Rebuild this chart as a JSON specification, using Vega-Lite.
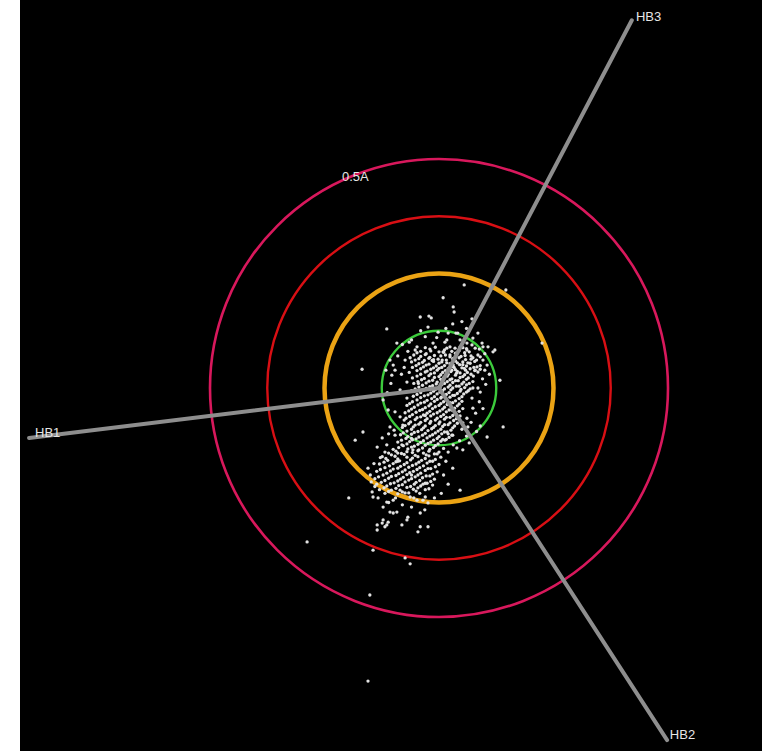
{
  "$schema": "https://vega.github.io/schema/vega-lite/v6.json",
  "width": 742,
  "height": 751,
  "autosize": {"type": "none"},
  "padding": {"left": 20, "top": 0, "right": 0, "bottom": 0},
  "background": "white",
  "config": {"view": {"fill": "black", "stroke": null}},
  "datasets": {
    "rings": [
      {"ring": "r1", "r": 0.125},
      {"ring": "r2", "r": 0.25},
      {"ring": "r3", "r": 0.375},
      {"ring": "r4", "r": 0.5}
    ],
    "phases": [
      {"phase": "HB1", "x0": 0, "y0": 0, "x1": -0.895, "y1": -0.109},
      {"phase": "HB2", "x0": 0, "y0": 0, "x1": 0.498, "y1": -0.769},
      {"phase": "HB3", "x0": 0, "y0": 0, "x1": 0.421, "y1": 0.803}
    ],
    "labels": [
      {"label": "HB1", "x": -0.882, "y": -0.107},
      {"label": "HB2", "x": 0.504, "y": -0.766},
      {"label": "HB3", "x": 0.430, "y": 0.801},
      {"label": "0.5A", "x": -0.212, "y": 0.452}
    ],
    "pts": [
      {"x":0.009,"y":0.197},{"x":0.031,"y":0.177},{"x":0.033,"y":0.166},{"x":-0.041,"y":0.155},{"x":-0.022,"y":0.157},{"x":-0.017,"y":0.153},{"x":-0.114,"y":0.129},{"x":-0.024,"y":0.133},{"x":-0.002,"y":0.122},{"x":-0.092,"y":0.098},{"x":-0.048,"y":0.090},{"x":-0.052,"y":0.083},{"x":-0.013,"y":0.098},{"x":0.017,"y":0.105},{"x":0.024,"y":0.090},{"x":0.037,"y":0.120},{"x":-0.074,"y":0.061},{"x":-0.063,"y":0.066},{"x":-0.100,"y":0.050},{"x":-0.107,"y":0.061},{"x":0.055,"y":0.225},{"x":0.146,"y":0.214},{"x":0.072,"y":0.151},{"x":0.085,"y":0.120},{"x":0.074,"y":0.109},{"x":0.094,"y":0.098},{"x":0.096,"y":0.090},{"x":0.107,"y":0.090},{"x":0.122,"y":0.083},{"x":0.118,"y":0.079},{"x":0.041,"y":0.120},{"x":0.020,"y":0.120},{"x":0.046,"y":0.105},{"x":0.061,"y":0.098},{"x":0.072,"y":0.094},{"x":0.079,"y":0.087},{"x":0.061,"y":0.083},{"x":0.046,"y":0.090},{"x":0.090,"y":0.068},{"x":0.096,"y":0.061},{"x":0.105,"y":0.050},{"x":0.074,"y":0.066},{"x":0.063,"y":0.055},{"x":0.083,"y":0.046},{"x":0.052,"y":0.057},{"x":0.013,"y":0.100},{"x":0.017,"y":0.087},{"x":0.009,"y":0.079},{"x":0.024,"y":0.072},{"x":0.007,"y":0.061},{"x":0.017,"y":0.055},{"x":0.031,"y":0.050},{"x":0.028,"y":0.039},{"x":-0.116,"y":0.039},{"x":-0.103,"y":0.028},{"x":-0.096,"y":0.039},{"x":-0.070,"y":0.013},{"x":-0.085,"y":-0.004},{"x":-0.122,"y":-0.026},{"x":-0.111,"y":-0.048},{"x":-0.096,"y":-0.052},{"x":-0.085,"y":-0.063},{"x":-0.107,"y":-0.085},{"x":-0.079,"y":-0.081},{"x":-0.096,"y":-0.103},{"x":-0.124,"y":-0.109},{"x":-0.135,"y":-0.129},{"x":-0.114,"y":-0.124},{"x":-0.081,"y":-0.124},{"x":-0.090,"y":-0.142},{"x":-0.057,"y":-0.135},{"x":0.079,"y":0.039},{"x":0.090,"y":0.041},{"x":0.100,"y":0.039},{"x":0.074,"y":0.000},{"x":0.085,"y":0.000},{"x":0.090,"y":-0.009},{"x":0.133,"y":0.017},{"x":0.072,"y":-0.022},{"x":0.074,"y":-0.044},{"x":0.061,"y":-0.066},{"x":0.052,"y":-0.076},{"x":0.063,"y":-0.085},{"x":0.090,"y":-0.083},{"x":0.140,"y":-0.085},{"x":0.105,"y":-0.107},{"x":0.028,"y":-0.103},{"x":0.013,"y":-0.114},{"x":0.031,"y":-0.124},{"x":0.039,"y":-0.131},{"x":0.052,"y":-0.135},{"x":-0.197,"y":-0.240},{"x":-0.146,"y":-0.227},{"x":-0.144,"y":-0.238},{"x":-0.133,"y":-0.240},{"x":-0.122,"y":-0.260},{"x":-0.114,"y":-0.249},{"x":-0.100,"y":-0.245},{"x":-0.107,"y":-0.271},{"x":-0.100,"y":-0.273},{"x":-0.092,"y":-0.271},{"x":-0.122,"y":-0.288},{"x":-0.111,"y":-0.293},{"x":-0.114,"y":-0.299},{"x":-0.118,"y":-0.303},{"x":-0.135,"y":-0.299},{"x":-0.124,"y":-0.295},{"x":-0.070,"y":-0.288},{"x":-0.081,"y":-0.299},{"x":-0.041,"y":-0.273},{"x":-0.031,"y":-0.266},{"x":-0.041,"y":-0.303},{"x":-0.024,"y":-0.303},{"x":-0.046,"y":-0.314},{"x":-0.135,"y":-0.310},{"x":-0.144,"y":-0.354},{"x":-0.074,"y":-0.371},{"x":-0.063,"y":-0.384},{"x":-0.068,"y":-0.282},{"x":-0.085,"y":-0.223},{"x":-0.074,"y":-0.229},{"x":-0.063,"y":-0.238},{"x":-0.048,"y":-0.245},{"x":-0.035,"y":-0.245},{"x":-0.024,"y":-0.251},{"x":-0.168,"y":0.041},{"x":-0.183,"y":-0.114},{"x":-0.166,"y":-0.096},{"x":-0.288,"y":-0.336},{"x":-0.151,"y":-0.452},{"x":-0.155,"y":-0.640},{"x":0.046,"y":-0.223},{"x":0.225,"y":0.098},
      {"x":-0.030,"y":0.088},{"x":-0.008,"y":0.089},{"x":0.035,"y":0.087},{"x":0.052,"y":0.088},
      {"x":-0.040,"y":0.080},{"x":-0.018,"y":0.081},{"x":0.000,"y":0.079},{"x":0.028,"y":0.080},{"x":0.044,"y":0.082},{"x":0.066,"y":0.079},
      {"x":-0.055,"y":0.072},{"x":-0.030,"y":0.073},{"x":-0.010,"y":0.071},{"x":0.014,"y":0.072},{"x":0.038,"y":0.074},{"x":0.057,"y":0.071},{"x":0.085,"y":0.072},
      {"x":-0.044,"y":0.064},{"x":-0.022,"y":0.065},{"x":-0.002,"y":0.063},{"x":0.030,"y":0.064},{"x":0.044,"y":0.066},{"x":0.070,"y":0.063},
      {"x":-0.060,"y":0.057},{"x":-0.036,"y":0.056},{"x":-0.012,"y":0.058},{"x":0.006,"y":0.057},{"x":0.040,"y":0.055},{"x":0.078,"y":0.058},
      {"x":-0.050,"y":0.049},{"x":-0.028,"y":0.050},{"x":-0.006,"y":0.048},{"x":0.012,"y":0.049},{"x":0.045,"y":0.051},{"x":0.060,"y":0.048},{"x":0.090,"y":0.049},
      {"x":-0.040,"y":0.042},{"x":-0.018,"y":0.041},{"x":0.000,"y":0.043},{"x":0.020,"y":0.042},{"x":0.036,"y":0.040},{"x":0.055,"y":0.043},{"x":0.068,"y":0.042},
      {"x":-0.065,"y":0.034},{"x":-0.030,"y":0.035},{"x":-0.010,"y":0.033},{"x":0.008,"y":0.034},{"x":0.026,"y":0.036},{"x":0.046,"y":0.033},{"x":0.062,"y":0.034},{"x":0.085,"y":0.035},
      {"x":-0.048,"y":0.026},{"x":-0.022,"y":0.027},{"x":0.000,"y":0.025},{"x":0.018,"y":0.026},{"x":0.036,"y":0.028},{"x":0.052,"y":0.025},{"x":0.075,"y":0.026},
      {"x":-0.038,"y":0.018},{"x":-0.014,"y":0.017},{"x":0.004,"y":0.019},{"x":0.024,"y":0.018},{"x":0.042,"y":0.016},{"x":0.060,"y":0.019},
      {"x":-0.055,"y":0.010},{"x":-0.028,"y":0.011},{"x":-0.006,"y":0.009},{"x":0.012,"y":0.010},{"x":0.030,"y":0.012},{"x":0.050,"y":0.009},{"x":0.066,"y":0.010},
      {"x":-0.044,"y":0.002},{"x":-0.020,"y":0.003},{"x":0.002,"y":0.001},{"x":0.020,"y":0.002},{"x":0.038,"y":0.004},{"x":0.056,"y":0.001},
      {"x":-0.060,"y":-0.006},{"x":-0.034,"y":-0.005},{"x":-0.012,"y":-0.007},{"x":0.008,"y":-0.006},{"x":0.026,"y":-0.004},{"x":0.046,"y":-0.007},{"x":0.064,"y":-0.006},
      {"x":-0.048,"y":-0.014},{"x":-0.024,"y":-0.015},{"x":-0.004,"y":-0.013},{"x":0.016,"y":-0.014},{"x":0.034,"y":-0.016},{"x":0.054,"y":-0.013},
      {"x":-0.070,"y":-0.022},{"x":-0.040,"y":-0.021},{"x":-0.016,"y":-0.023},{"x":0.004,"y":-0.022},{"x":0.024,"y":-0.020},{"x":0.044,"y":-0.023},
      {"x":-0.058,"y":-0.030},{"x":-0.032,"y":-0.031},{"x":-0.010,"y":-0.029},{"x":0.010,"y":-0.030},{"x":0.030,"y":-0.032},{"x":0.050,"y":-0.029},
      {"x":-0.070,"y":-0.038},{"x":-0.046,"y":-0.037},{"x":-0.022,"y":-0.039},{"x":0.000,"y":-0.038},{"x":0.018,"y":-0.036},{"x":0.040,"y":-0.039},
      {"x":-0.060,"y":-0.046},{"x":-0.036,"y":-0.047},{"x":-0.014,"y":-0.045},{"x":0.008,"y":-0.046},{"x":0.028,"y":-0.048},{"x":0.052,"y":-0.045},
      {"x":-0.074,"y":-0.054},{"x":-0.050,"y":-0.053},{"x":-0.026,"y":-0.055},{"x":-0.004,"y":-0.054},{"x":0.016,"y":-0.052},{"x":0.036,"y":-0.055},
      {"x":-0.064,"y":-0.062},{"x":-0.040,"y":-0.063},{"x":-0.018,"y":-0.061},{"x":0.004,"y":-0.062},{"x":0.024,"y":-0.064},{"x":0.046,"y":-0.061},
      {"x":-0.076,"y":-0.070},{"x":-0.052,"y":-0.069},{"x":-0.030,"y":-0.071},{"x":-0.008,"y":-0.070},{"x":0.012,"y":-0.068},{"x":0.032,"y":-0.071},
      {"x":-0.066,"y":-0.078},{"x":-0.044,"y":-0.079},{"x":-0.020,"y":-0.077},{"x":0.000,"y":-0.078},{"x":0.020,"y":-0.080},{"x":0.040,"y":-0.077},
      {"x":-0.080,"y":-0.086},{"x":-0.056,"y":-0.085},{"x":-0.034,"y":-0.087},{"x":-0.012,"y":-0.086},{"x":0.008,"y":-0.084},{"x":0.030,"y":-0.087},
      {"x":-0.070,"y":-0.094},{"x":-0.046,"y":-0.095},{"x":-0.024,"y":-0.093},{"x":-0.002,"y":-0.094},{"x":0.018,"y":-0.096},
      {"x":-0.084,"y":-0.102},{"x":-0.060,"y":-0.101},{"x":-0.036,"y":-0.103},{"x":-0.014,"y":-0.102},{"x":0.006,"y":-0.100},{"x":0.030,"y":-0.103},
      {"x":-0.072,"y":-0.110},{"x":-0.050,"y":-0.111},{"x":-0.026,"y":-0.109},{"x":-0.004,"y":-0.110},{"x":0.016,"y":-0.112},
      {"x":-0.090,"y":-0.118},{"x":-0.064,"y":-0.117},{"x":-0.040,"y":-0.119},{"x":-0.018,"y":-0.118},{"x":0.004,"y":-0.116},
      {"x":-0.078,"y":-0.126},{"x":-0.054,"y":-0.127},{"x":-0.030,"y":-0.125},{"x":-0.008,"y":-0.126},
      {"x":-0.100,"y":-0.134},{"x":-0.068,"y":-0.133},{"x":-0.044,"y":-0.135},{"x":-0.020,"y":-0.134},{"x":0.010,"y":-0.132},
      {"x":-0.110,"y":-0.142},{"x":-0.082,"y":-0.143},{"x":-0.058,"y":-0.141},{"x":-0.034,"y":-0.142},{"x":-0.010,"y":-0.144},
      {"x":-0.124,"y":-0.150},{"x":-0.096,"y":-0.149},{"x":-0.070,"y":-0.151},{"x":-0.046,"y":-0.150},{"x":-0.022,"y":-0.148},{"x":0.004,"y":-0.151},
      {"x":-0.112,"y":-0.158},{"x":-0.086,"y":-0.159},{"x":-0.062,"y":-0.157},{"x":-0.038,"y":-0.158},{"x":-0.014,"y":-0.160},
      {"x":-0.130,"y":-0.166},{"x":-0.100,"y":-0.165},{"x":-0.076,"y":-0.167},{"x":-0.050,"y":-0.166},{"x":-0.026,"y":-0.164},{"x":0.000,"y":-0.167},
      {"x":-0.118,"y":-0.174},{"x":-0.090,"y":-0.175},{"x":-0.066,"y":-0.173},{"x":-0.042,"y":-0.174},{"x":-0.018,"y":-0.176},
      {"x":-0.136,"y":-0.182},{"x":-0.106,"y":-0.181},{"x":-0.080,"y":-0.183},{"x":-0.056,"y":-0.182},{"x":-0.030,"y":-0.180},{"x":-0.004,"y":-0.183},
      {"x":-0.122,"y":-0.190},{"x":-0.094,"y":-0.191},{"x":-0.070,"y":-0.189},{"x":-0.046,"y":-0.190},{"x":-0.020,"y":-0.192},
      {"x":-0.140,"y":-0.198},{"x":-0.110,"y":-0.197},{"x":-0.084,"y":-0.199},{"x":-0.060,"y":-0.198},{"x":-0.036,"y":-0.196},{"x":-0.010,"y":-0.199},
      {"x":-0.126,"y":-0.206},{"x":-0.098,"y":-0.207},{"x":-0.074,"y":-0.205},{"x":-0.050,"y":-0.206},{"x":-0.026,"y":-0.208},
      {"x":-0.114,"y":-0.214},{"x":-0.088,"y":-0.213},{"x":-0.062,"y":-0.215},{"x":-0.040,"y":-0.214},{"x":-0.014,"y":-0.212},
      {"x":-0.130,"y":-0.222},{"x":-0.104,"y":-0.223},{"x":-0.056,"y":-0.221},{"x":-0.030,"y":-0.222},
      {"x":-0.118,"y":-0.230},{"x":-0.090,"y":-0.231},{"x":-0.066,"y":-0.229},{"x":-0.042,"y":-0.230},
      {"x":-0.020,"y":0.085},{"x":0.012,"y":0.083},{"x":0.060,"y":0.086},
      {"x":-0.048,"y":0.077},{"x":-0.028,"y":0.075},{"x":0.010,"y":0.078},{"x":0.036,"y":0.076},{"x":0.056,"y":0.077},
      {"x":-0.040,"y":0.069},{"x":-0.020,"y":0.067},{"x":0.004,"y":0.070},{"x":0.024,"y":0.068},{"x":0.048,"y":0.069},{"x":0.070,"y":0.070},
      {"x":-0.052,"y":0.061},{"x":-0.032,"y":0.060},{"x":-0.012,"y":0.062},{"x":0.016,"y":0.061},{"x":0.036,"y":0.059},{"x":0.058,"y":0.062},{"x":0.082,"y":0.061},
      {"x":-0.044,"y":0.053},{"x":-0.022,"y":0.052},{"x":0.000,"y":0.054},{"x":0.024,"y":0.053},{"x":0.052,"y":0.051},{"x":0.068,"y":0.054},
      {"x":-0.058,"y":0.045},{"x":-0.034,"y":0.046},{"x":-0.012,"y":0.044},{"x":0.006,"y":0.045},{"x":0.028,"y":0.047},{"x":0.050,"y":0.044},{"x":0.076,"y":0.045},
      {"x":-0.048,"y":0.038},{"x":-0.026,"y":0.037},{"x":-0.004,"y":0.039},{"x":0.014,"y":0.038},{"x":0.040,"y":0.036},{"x":0.058,"y":0.039},{"x":0.078,"y":0.038},
      {"x":-0.040,"y":0.030},{"x":-0.018,"y":0.031},{"x":0.004,"y":0.029},{"x":0.020,"y":0.030},{"x":0.038,"y":0.032},{"x":0.056,"y":0.029},{"x":0.070,"y":0.030},
      {"x":-0.058,"y":0.022},{"x":-0.032,"y":0.021},{"x":-0.010,"y":0.023},{"x":0.010,"y":0.022},{"x":0.028,"y":0.020},{"x":0.046,"y":0.023},{"x":0.064,"y":0.022},
      {"x":-0.046,"y":0.014},{"x":-0.022,"y":0.015},{"x":-0.004,"y":0.013},{"x":0.018,"y":0.014},{"x":0.036,"y":0.016},{"x":0.054,"y":0.013},{"x":0.074,"y":0.014},
      {"x":-0.036,"y":0.006},{"x":-0.014,"y":0.005},{"x":0.006,"y":0.007},{"x":0.024,"y":0.006},{"x":0.044,"y":0.004},{"x":0.060,"y":0.007},
      {"x":-0.052,"y":-0.002},{"x":-0.028,"y":-0.001},{"x":-0.008,"y":-0.003},{"x":0.012,"y":-0.002},{"x":0.030,"y":0.000},{"x":0.048,"y":-0.003},{"x":0.068,"y":-0.002},
      {"x":-0.040,"y":-0.010},{"x":-0.018,"y":-0.011},{"x":0.002,"y":-0.009},{"x":0.022,"y":-0.010},{"x":0.040,"y":-0.012},{"x":0.060,"y":-0.009},
      {"x":-0.056,"y":-0.018},{"x":-0.032,"y":-0.017},{"x":-0.010,"y":-0.019},{"x":0.010,"y":-0.018},{"x":0.030,"y":-0.016},{"x":0.050,"y":-0.019},
      {"x":-0.048,"y":-0.026},{"x":-0.026,"y":-0.027},{"x":-0.004,"y":-0.025},{"x":0.016,"y":-0.026},{"x":0.036,"y":-0.028},
      {"x":-0.064,"y":-0.034},{"x":-0.040,"y":-0.033},{"x":-0.018,"y":-0.035},{"x":0.004,"y":-0.034},{"x":0.024,"y":-0.032},{"x":0.044,"y":-0.035},
      {"x":-0.054,"y":-0.042},{"x":-0.030,"y":-0.043},{"x":-0.008,"y":-0.041},{"x":0.012,"y":-0.042},{"x":0.034,"y":-0.044},
      {"x":-0.066,"y":-0.050},{"x":-0.042,"y":-0.049},{"x":-0.020,"y":-0.051},{"x":0.002,"y":-0.050},{"x":0.022,"y":-0.048},{"x":0.044,"y":-0.051},
      {"x":-0.058,"y":-0.058},{"x":-0.034,"y":-0.059},{"x":-0.012,"y":-0.057},{"x":0.010,"y":-0.058},{"x":0.030,"y":-0.060},
      {"x":-0.072,"y":-0.066},{"x":-0.048,"y":-0.065},{"x":-0.026,"y":-0.067},{"x":-0.004,"y":-0.066},{"x":0.016,"y":-0.064},{"x":0.038,"y":-0.067},
      {"x":-0.062,"y":-0.074},{"x":-0.040,"y":-0.075},{"x":-0.018,"y":-0.073},{"x":0.002,"y":-0.074},{"x":0.024,"y":-0.076},
      {"x":-0.074,"y":-0.082},{"x":-0.052,"y":-0.081},{"x":-0.030,"y":-0.083},{"x":-0.008,"y":-0.082},{"x":0.012,"y":-0.080},{"x":0.034,"y":-0.083},
      {"x":-0.060,"y":-0.090},{"x":-0.038,"y":-0.091},{"x":-0.016,"y":-0.089},{"x":0.004,"y":-0.090},{"x":0.026,"y":-0.092},
      {"x":-0.078,"y":-0.098},{"x":-0.054,"y":-0.097},{"x":-0.030,"y":-0.099},{"x":-0.008,"y":-0.098},{"x":0.012,"y":-0.096},
      {"x":-0.068,"y":-0.106},{"x":-0.044,"y":-0.107},{"x":-0.020,"y":-0.105},{"x":0.000,"y":-0.106},{"x":0.022,"y":-0.108},
      {"x":-0.082,"y":-0.114},{"x":-0.058,"y":-0.113},{"x":-0.034,"y":-0.115},{"x":-0.012,"y":-0.114},{"x":0.008,"y":-0.112},
      {"x":-0.070,"y":-0.122},{"x":-0.046,"y":-0.123},{"x":-0.024,"y":-0.121},{"x":-0.002,"y":-0.122},
      {"x":-0.088,"y":-0.130},{"x":-0.060,"y":-0.129},{"x":-0.036,"y":-0.131},{"x":-0.012,"y":-0.130},
      {"x":-0.094,"y":-0.138},{"x":-0.070,"y":-0.139},{"x":-0.046,"y":-0.137},{"x":-0.022,"y":-0.138},{"x":0.000,"y":-0.140},
      {"x":-0.104,"y":-0.146},{"x":-0.076,"y":-0.145},{"x":-0.052,"y":-0.147},{"x":-0.028,"y":-0.146},{"x":-0.004,"y":-0.144},
      {"x":-0.116,"y":-0.154},{"x":-0.090,"y":-0.155},{"x":-0.058,"y":-0.153},{"x":-0.030,"y":-0.154},{"x":-0.008,"y":-0.156},
      {"x":-0.120,"y":-0.162},{"x":-0.094,"y":-0.161},{"x":-0.070,"y":-0.163},{"x":-0.044,"y":-0.162},{"x":-0.020,"y":-0.160},
      {"x":-0.108,"y":-0.170},{"x":-0.084,"y":-0.171},{"x":-0.058,"y":-0.169},{"x":-0.034,"y":-0.170},{"x":-0.008,"y":-0.172},
      {"x":-0.128,"y":-0.178},{"x":-0.100,"y":-0.177},{"x":-0.074,"y":-0.179},{"x":-0.048,"y":-0.178},{"x":-0.024,"y":-0.176},
      {"x":-0.114,"y":-0.186},{"x":-0.088,"y":-0.187},{"x":-0.064,"y":-0.185},{"x":-0.040,"y":-0.186},{"x":-0.014,"y":-0.188},
      {"x":-0.132,"y":-0.194},{"x":-0.104,"y":-0.193},{"x":-0.078,"y":-0.195},{"x":-0.052,"y":-0.194},{"x":-0.028,"y":-0.192},
      {"x":-0.118,"y":-0.202},{"x":-0.090,"y":-0.203},{"x":-0.066,"y":-0.201},{"x":-0.042,"y":-0.202},{"x":-0.018,"y":-0.204},
      {"x":-0.136,"y":-0.210},{"x":-0.106,"y":-0.209},{"x":-0.080,"y":-0.211},{"x":-0.054,"y":-0.210},{"x":-0.030,"y":-0.208},
      {"x":-0.120,"y":-0.218},{"x":-0.094,"y":-0.219},{"x":-0.070,"y":-0.217},{"x":-0.046,"y":-0.218},{"x":-0.022,"y":-0.220},
      {"x":-0.110,"y":-0.226},{"x":-0.080,"y":-0.227},{"x":-0.050,"y":-0.225},
      {"x":-0.082,"y":0.030},{"x":-0.076,"y":0.045},{"x":-0.090,"y":0.070},{"x":-0.068,"y":0.080},{"x":-0.080,"y":0.095},{"x":-0.060,"y":0.105},{"x":-0.105,"y":0.010},{"x":-0.113,"y":-0.010},{"x":-0.098,"y":-0.092},{"x":-0.110,"y":-0.100},{"x":-0.118,"y":-0.140},{"x":-0.128,"y":-0.152},{"x":-0.142,"y":-0.165},{"x":-0.150,"y":-0.190},{"x":-0.148,"y":-0.205},{"x":-0.155,"y":-0.175},{"x":-0.140,"y":-0.215},
      {"x":0.095,"y":0.020},{"x":0.102,"y":0.008},{"x":0.088,"y":-0.030},{"x":0.080,"y":-0.055},{"x":0.096,"y":-0.045},{"x":0.070,"y":-0.075},{"x":0.082,"y":-0.095},{"x":0.060,"y":-0.105},{"x":0.050,"y":-0.090},{"x":0.045,"y":-0.115},{"x":0.066,"y":-0.120},{"x":0.100,"y":0.075},{"x":0.088,"y":0.085},{"x":0.110,"y":0.030},{"x":0.060,"y":0.130},{"x":0.050,"y":0.145},{"x":0.030,"y":0.140},{"x":0.015,"y":0.130},{"x":-0.005,"y":0.110},{"x":-0.030,"y":0.112},{"x":-0.040,"y":0.125},{"x":-0.065,"y":0.100},
      {"x":0.020,"y":-0.140},{"x":0.015,"y":-0.160},{"x":0.030,"y":-0.175},{"x":0.010,"y":-0.190},{"x":0.020,"y":-0.210},{"x":0.005,"y":-0.230},{"x":-0.010,"y":-0.240},{"x":-0.030,"y":-0.238},{"x":-0.055,"y":-0.240},{"x":-0.095,"y":-0.240},{"x":-0.110,"y":-0.250},{"x":-0.080,"y":-0.255},{"x":-0.060,"y":-0.260},
      {"x":-0.015,"y":0.060},{"x":0.033,"y":0.045},{"x":-0.045,"y":0.010},{"x":0.005,"y":-0.020},{"x":-0.030,"y":-0.060},{"x":0.020,"y":-0.100},{"x":-0.060,"y":-0.110},{"x":-0.090,"y":-0.160},{"x":-0.060,"y":-0.190},{"x":-0.035,"y":-0.210}
    ]
  },
  "encoding": {
    "x": {"type": "quantitative", "scale": {"domain": [-0.9148, 0.7052], "nice": false, "zero": false}, "axis": null},
    "y": {"type": "quantitative", "scale": {"domain": [-0.7926, 0.8472], "nice": false, "zero": false}, "axis": null}
  },
  "layer": [
    {
      "data": {"name": "rings"},
      "transform": [{"filter": "datum.ring === 'r4'"}],
      "mark": {"type": "point", "shape": "circle", "filled": false, "opacity": 1, "color": "#d8185c", "strokeWidth": 2.6},
      "encoding": {
        "x": {"datum": 0},
        "y": {"datum": 0},
        "size": {"field": "r", "type": "quantitative", "scale": {"type": "pow", "exponent": 2, "domain": [0, 0.5], "range": [0, 209764], "zero": true}, "legend": null}
      }
    },
    {
      "data": {"name": "rings"},
      "transform": [{"filter": "datum.ring === 'r3'"}],
      "mark": {"type": "point", "shape": "circle", "filled": false, "opacity": 1, "color": "#d80f14", "strokeWidth": 2.4},
      "encoding": {
        "x": {"datum": 0},
        "y": {"datum": 0},
        "size": {"field": "r", "type": "quantitative", "scale": {"type": "pow", "exponent": 2, "domain": [0, 0.5], "range": [0, 209764], "zero": true}, "legend": null}
      }
    },
    {
      "data": {"name": "rings"},
      "transform": [{"filter": "datum.ring === 'r2'"}],
      "mark": {"type": "point", "shape": "circle", "filled": false, "opacity": 1, "color": "#eba314", "strokeWidth": 4.5},
      "encoding": {
        "x": {"datum": 0},
        "y": {"datum": 0},
        "size": {"field": "r", "type": "quantitative", "scale": {"type": "pow", "exponent": 2, "domain": [0, 0.5], "range": [0, 209764], "zero": true}, "legend": null}
      }
    },
    {
      "data": {"name": "rings"},
      "transform": [{"filter": "datum.ring === 'r1'"}],
      "mark": {"type": "point", "shape": "circle", "filled": false, "opacity": 1, "color": "#3ccb3c", "strokeWidth": 2.4},
      "encoding": {
        "x": {"datum": 0},
        "y": {"datum": 0},
        "size": {"field": "r", "type": "quantitative", "scale": {"type": "pow", "exponent": 2, "domain": [0, 0.5], "range": [0, 209764], "zero": true}, "legend": null}
      }
    },
    {
      "data": {"name": "pts"},
      "mark": {"type": "point", "shape": "circle", "filled": true, "size": 11, "opacity": 1, "color": "#e2e2e2"},
      "encoding": {
        "x": {"field": "x", "type": "quantitative"},
        "y": {"field": "y", "type": "quantitative"}
      }
    },
    {
      "data": {"name": "phases"},
      "mark": {"type": "rule", "color": "#8e8e8e", "strokeWidth": 4, "strokeCap": "round"},
      "encoding": {
        "x": {"field": "x0", "type": "quantitative"},
        "y": {"field": "y0", "type": "quantitative"},
        "x2": {"field": "x1"},
        "y2": {"field": "y1"}
      }
    },
    {
      "data": {"name": "labels"},
      "mark": {"type": "text", "align": "left", "baseline": "alphabetic", "font": "Liberation Sans", "fontSize": 13, "color": "#e6e6e6"},
      "encoding": {
        "x": {"field": "x", "type": "quantitative"},
        "y": {"field": "y", "type": "quantitative"},
        "text": {"field": "label", "type": "nominal"}
      }
    }
  ]
}
